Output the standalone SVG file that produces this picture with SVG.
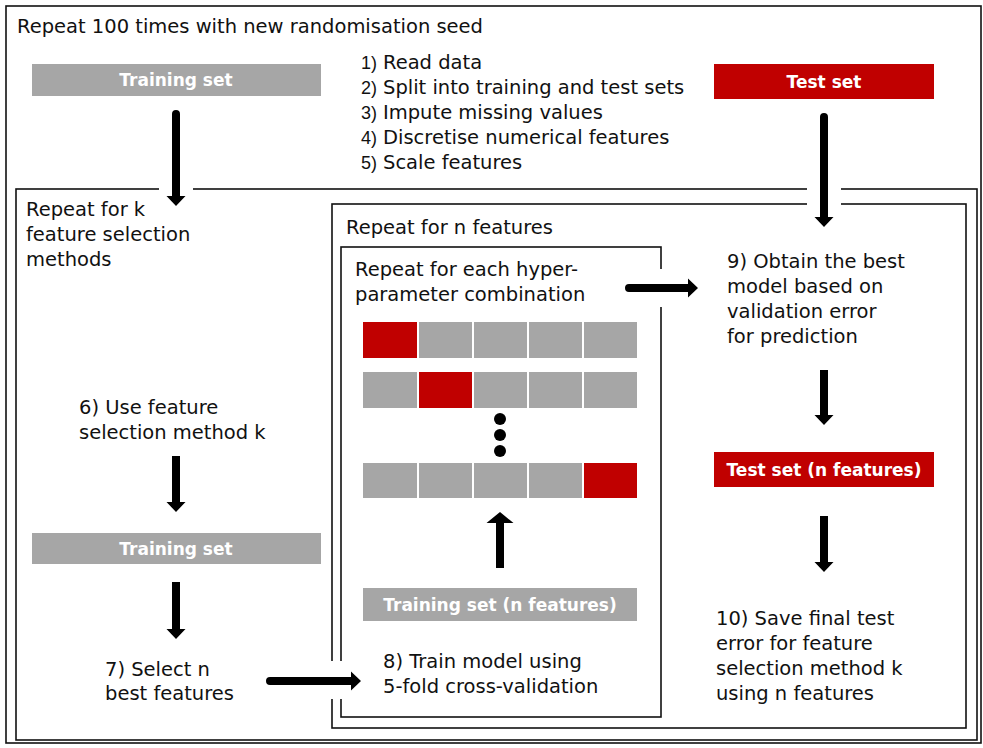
<svg xmlns="http://www.w3.org/2000/svg" width="983" height="748" viewBox="0 0 983 748">
<style>
.t{font-family:"DejaVu Sans",sans-serif;font-size:19.5px;fill:#111}
.n{font-family:"Liberation Sans",sans-serif;font-size:18px;fill:#111}
.lb{font-family:"DejaVu Sans",sans-serif;font-size:17px;font-weight:bold;fill:#fff;text-anchor:middle}
.box{fill:none;stroke:#111;stroke-width:1.6}
.gray{fill:#a6a6a6}
.red{fill:#c00000}
.arr{fill:#000}
</style>
<rect width="983" height="748" fill="#fff"/>
<g id="frames">
<rect class="box" x="6" y="6" width="975" height="737" stroke-width="2"/>
<rect class="box" x="16" y="189" width="961" height="551"/>
<rect class="box" x="332" y="204" width="634" height="524"/>
<rect class="box" x="341" y="247" width="320" height="470"/>
<rect x="159" y="184" width="34" height="10" fill="#fff"/>
<rect x="807" y="184" width="34" height="25" fill="#fff"/>
<rect x="655" y="269" width="12" height="38" fill="#fff"/>
<rect x="326" y="661" width="21" height="38" fill="#fff"/>
</g>
<g id="outer-label"><text class="t" x="17" y="33">Repeat 100 times with new randomisation seed</text></g>
<g id="steps">
<text class="n" x="361" y="69">1)</text><text class="t" x="383" y="69">Read data</text>
<text class="n" x="361" y="94">2)</text><text class="t" x="383" y="94">Split into training and test sets</text>
<text class="n" x="361" y="119">3)</text><text class="t" x="383" y="119">Impute missing values</text>
<text class="n" x="361" y="144">4)</text><text class="t" x="383" y="144">Discretise numerical features</text>
<text class="n" x="361" y="169">5)</text><text class="t" x="383" y="169">Scale features</text>
</g>
<g id="training-set-top"><rect class="gray" x="32" y="64" width="289" height="32"/><text class="lb" x="176" y="86">Training set</text></g>
<g id="test-set-top"><rect class="red" x="714" y="64" width="220" height="35"/><text class="lb" x="824" y="88">Test set</text></g>
<g id="k-label"><text class="t" x="26" y="216">Repeat for k</text><text class="t" x="26" y="241">feature selection</text><text class="t" x="26" y="266">methods</text></g>
<g id="n-label"><text class="t" x="346" y="234">Repeat for n features</text></g>
<g id="hyper-label"><text class="t" x="355" y="276">Repeat for each hyper-</text><text class="t" x="355" y="301">parameter combination</text></g>
<g id="cv-grid">
<rect class="red" x="363" y="322" width="54" height="36"/><rect class="gray" x="419" y="322" width="53" height="36"/><rect class="gray" x="474" y="322" width="53" height="36"/><rect class="gray" x="529" y="322" width="53" height="36"/><rect class="gray" x="584" y="322" width="53" height="36"/>
<rect class="gray" x="363" y="372" width="54" height="36"/><rect class="red" x="419" y="372" width="53" height="36"/><rect class="gray" x="474" y="372" width="53" height="36"/><rect class="gray" x="529" y="372" width="53" height="36"/><rect class="gray" x="584" y="372" width="53" height="36"/>
<circle cx="500" cy="419" r="6"/><circle cx="500" cy="435" r="6"/><circle cx="500" cy="451" r="6"/>
<rect class="gray" x="363" y="463" width="54" height="35"/><rect class="gray" x="419" y="463" width="53" height="35"/><rect class="gray" x="474" y="463" width="53" height="35"/><rect class="gray" x="529" y="463" width="53" height="35"/><rect class="red" x="584" y="463" width="53" height="35"/>
</g>
<g id="training-n"><rect class="gray" x="363" y="588" width="274" height="33"/><text class="lb" x="500" y="611">Training set (n features)</text></g>
<g id="step8"><text class="t" x="383" y="668">8) Train model using</text><text class="t" x="383" y="693">5-fold cross-validation</text></g>
<g id="step9"><text class="t" x="727" y="268">9) Obtain the best</text><text class="t" x="727" y="293">model based on</text><text class="t" x="727" y="318">validation error</text><text class="t" x="727" y="343">for prediction</text></g>
<g id="test-n"><rect class="red" x="714" y="452" width="220" height="35"/><text class="lb" x="824" y="476">Test set (n features)</text></g>
<g id="step10"><text class="t" x="716" y="625">10) Save final test</text><text class="t" x="716" y="650">error for feature</text><text class="t" x="716" y="675">selection method k</text><text class="t" x="716" y="700">using n features</text></g>
<g id="step6"><text class="t" x="79" y="414">6) Use feature</text><text class="t" x="79" y="439">selection method k</text></g>
<g id="training-mid"><rect class="gray" x="32" y="533" width="289" height="31"/><text class="lb" x="176" y="555">Training set</text></g>
<g id="step7"><text class="t" x="105" y="676">7) Select n</text><text class="t" x="105" y="700">best features</text></g>
<g id="connectors" class="arr">
<path d="M172,206 L172,114 Q172,110 176,110 Q180,110 180,114 L180,196 L185.5,196 L176,206 L166.5,196 L172,196 Z"/>
<path d="M820,227 L820,117 Q820,113 824,113 Q828,113 828,117 L828,217 L833.5,217 L824,227 L814.5,217 L820,217 Z"/>
<path d="M172,512 L172,456 L180,456 L180,502 L185.5,502 L176,512 L166.5,502 L172,502 Z"/>
<path d="M172,639 L172,582 L180,582 L180,629 L185.5,629 L176,639 L166.5,629 L172,629 Z"/>
<path d="M820,425 L820,370 L828,370 L828,415 L833.5,415 L824,425 L814.5,415 L820,415 Z"/>
<path d="M820,572 L820,516 L828,516 L828,562 L833.5,562 L824,572 L814.5,562 L820,562 Z"/>
<path d="M496,568 L496,523 L486.5,523 L500,512 L513.5,523 L504,523 L504,568 Z"/>
<path d="M629,284 L688,284 L688,278.5 L698,288 L688,297.5 L688,292 L629,292 Q625,292 625,288 Q625,284 629,284 Z"/>
<path d="M270,677 L351,677 L351,671.5 L361,681 L351,690.5 L351,685 L270,685 Q266,685 266,681 Q266,677 270,677 Z"/>
</g>
</svg>
